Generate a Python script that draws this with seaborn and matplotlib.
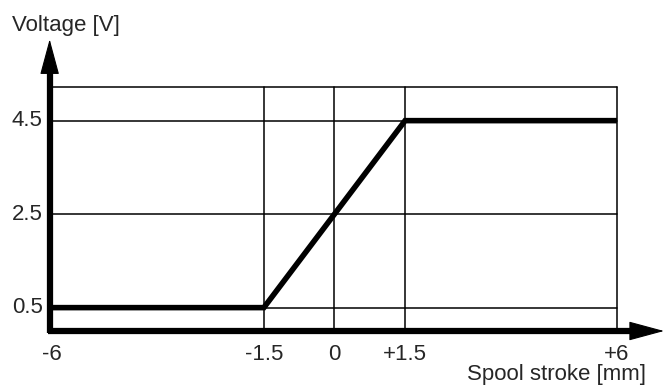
import matplotlib
matplotlib.use("Agg")
import matplotlib.pyplot as plt
import seaborn as sns
import pandas as pd

sns.set_style("white")
plt.rcParams['font.family'] = ['Liberation Sans', 'DejaVu Sans']

# characteristic curve
stroke = [-6, -1.5, 1.5, 6]
voltage = [0.5, 0.5, 4.5, 4.5]

x_ticks = [-6, -1.5, 0, 1.5, 6]
x_labels = ["-6", "-1.5", "0", "+1.5", "+6"]
y_ticks = [0.5, 2.5, 4.5]
y_labels = ["0.5", "2.5", "4.5"]
y_top = 5.22

W, H = 664, 392
fig = plt.figure(figsize=(W / 100, H / 100), dpi=100)
ax = fig.add_axes([52 / W, (H - 331) / H, 612 / W, 294.5 / H])
ax.set_xlim(-6, 7)
ax.set_ylim(0, 6.3)
ax.axis("off")

# grid box
for xv in x_ticks[1:]:
    ax.plot([xv, xv], [0, y_top], color="black", lw=1.1, zorder=1)
for yv in y_ticks + [y_top]:
    ax.plot([-6, 6], [yv, yv], color="black", lw=1.1, zorder=1)

df = pd.DataFrame({"stroke": stroke, "voltage": voltage})
sns.lineplot(data=df, x="stroke", y="voltage", ax=ax, color="black",
             lw=4, zorder=3, solid_joinstyle="miter", solid_capstyle="butt")

# axes lines
ax.plot([-6.08, 6.5], [0, 0], color="black", lw=4.5, solid_capstyle="butt",
        zorder=4, clip_on=False)
ax.plot([-6.05, -6.05], [-0.05, 5.8], color="black", lw=4.5, solid_capstyle="butt",
        zorder=4, clip_on=False)

# arrow heads
head = dict(arrowstyle="-|>,head_length=2.3,head_width=0.62", mutation_scale=10,
            lw=0.8, color="black", shrinkA=0, shrinkB=0)
ax.annotate("", xy=(7.0, 0), xytext=(6.0, 0), arrowprops=head,
            annotation_clip=False, zorder=5)
ax.annotate("", xy=(-6.05, 6.24), xytext=(-6.05, 5.5), arrowprops=head,
            annotation_clip=False, zorder=5)

# tick labels
for xv, lab in zip(x_ticks, x_labels):
    ax.text(xv, -0.27, lab, ha="center", va="top", fontsize=16)
for yv, lab in zip(y_ticks, y_labels):
    ax.text(-6.2, yv, lab, ha="right", va="center", fontsize=16)

fig.text(12 / W, 1 - 31 / H, "Voltage [V]", ha="left", va="baseline", fontsize=16)
fig.text(646 / W, 1 - 380 / H, "Spool stroke [mm]", ha="right", va="baseline", fontsize=16)

fig.savefig("out.png", dpi=100, facecolor="white")
